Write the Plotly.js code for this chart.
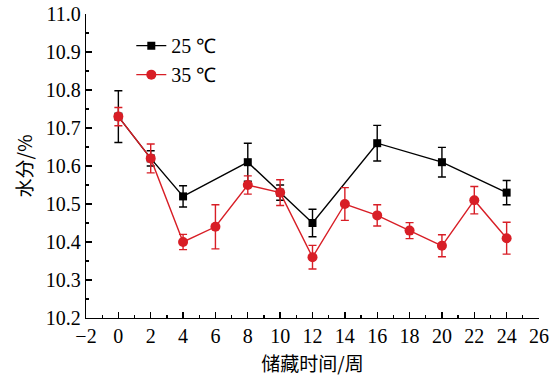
<!DOCTYPE html>
<html>
<head>
<meta charset="utf-8">
<script src="https://cdn.plot.ly/plotly-3.0.1.min.js"></script>
<style>html,body{margin:0;padding:0;background:#fff}#chart{width:560px;height:377px}</style>
</head>
<body>
<div id="chart"></div>
<script>
// Data
const weeks25 = [0, 2, 4, 8, 10, 12, 16, 20, 24];
const moisture25 = [10.73, 10.62, 10.52, 10.61, 10.53, 10.45, 10.66, 10.61, 10.53];
const err25 = [0.068, 0.02, 0.028, 0.05, 0.02, 0.036, 0.047, 0.039, 0.032];

const weeks35 = [0, 2, 4, 6, 8, 10, 12, 14, 16, 18, 20, 22, 24];
const moisture35 = [10.73, 10.62, 10.40, 10.44, 10.55, 10.53, 10.36, 10.50, 10.47, 10.43, 10.39, 10.51, 10.41];
const err35 = [0.024, 0.038, 0.02, 0.058, 0.024, 0.034, 0.031, 0.043, 0.028, 0.021, 0.029, 0.036, 0.042];

const seriesNames = ['25 ℃', '35 ℃'];
const xTitle = '储藏时间/周';
const yTitle = '水分/%';

const RED = '#d81e26';
const SERIF = 'Liberation Serif, Times New Roman, serif';
const tickFont = {family: SERIF, size: 20, color: '#000'};
const cjkFont = {family: 'Noto Sans CJK SC, sans-serif', size: 19, color: '#000'};

const traces = [
  {
    x: weeks25, y: moisture25, name: seriesNames[0], type: 'scatter', mode: 'lines+markers',
    line: {color: '#000', width: 1.4},
    marker: {symbol: 'square', size: 8, color: '#000'},
    error_y: {type: 'data', array: err25, visible: true, color: '#000', thickness: 1.4, width: 4}
  },
  {
    x: weeks35, y: moisture35, name: seriesNames[1], type: 'scatter', mode: 'lines+markers',
    line: {color: RED, width: 1.4},
    marker: {symbol: 'circle', size: 10, color: RED},
    error_y: {type: 'data', array: err35, visible: true, color: RED, thickness: 1.4, width: 4}
  }
];

const layout = {
  width: 560, height: 377,
  font: {family: SERIF, size: 20, color: '#000'},
  margin: {l: 86, r: 21, t: 14, b: 59},
  paper_bgcolor: '#fff', plot_bgcolor: '#fff',
  showlegend: true,
  legend: {
    x: 0.1, y: 0.96, xanchor: 'left', yanchor: 'top',
    font: tickFont, bgcolor: 'rgba(0,0,0,0)', tracegroupgap: 0, itemwidth: 30
  },
  xaxis: {
    range: [-2, 26], dtick: 2, tick0: 0,
    showline: true, linecolor: '#000', linewidth: 1.3, mirror: false,
    ticks: 'inside', ticklen: 6, tickwidth: 1.3, tickcolor: '#000',
    minor: {dtick: 1, ticks: 'inside', ticklen: 3, tickwidth: 1.3, tickcolor: '#000'},
    showgrid: false, zeroline: false,
    tickfont: tickFont,
    title: {text: xTitle, font: cjkFont, standoff: 11}
  },
  yaxis: {
    range: [10.2, 11.0], dtick: 0.1, tick0: 10.2, tickformat: '.1f',
    showline: true, linecolor: '#000', linewidth: 1.3, mirror: false,
    ticks: 'inside', ticklen: 6, tickwidth: 1.3, tickcolor: '#000',
    minor: {dtick: 0.05, ticks: 'inside', ticklen: 3, tickwidth: 1.3, tickcolor: '#000'},
    showgrid: false, zeroline: false,
    tickfont: tickFont,
    title: {text: yTitle, font: cjkFont, standoff: 8}
  }
};

Plotly.newPlot('chart', traces, layout, {displayModeBar: false, staticPlot: true});
</script>
</body>
</html>
